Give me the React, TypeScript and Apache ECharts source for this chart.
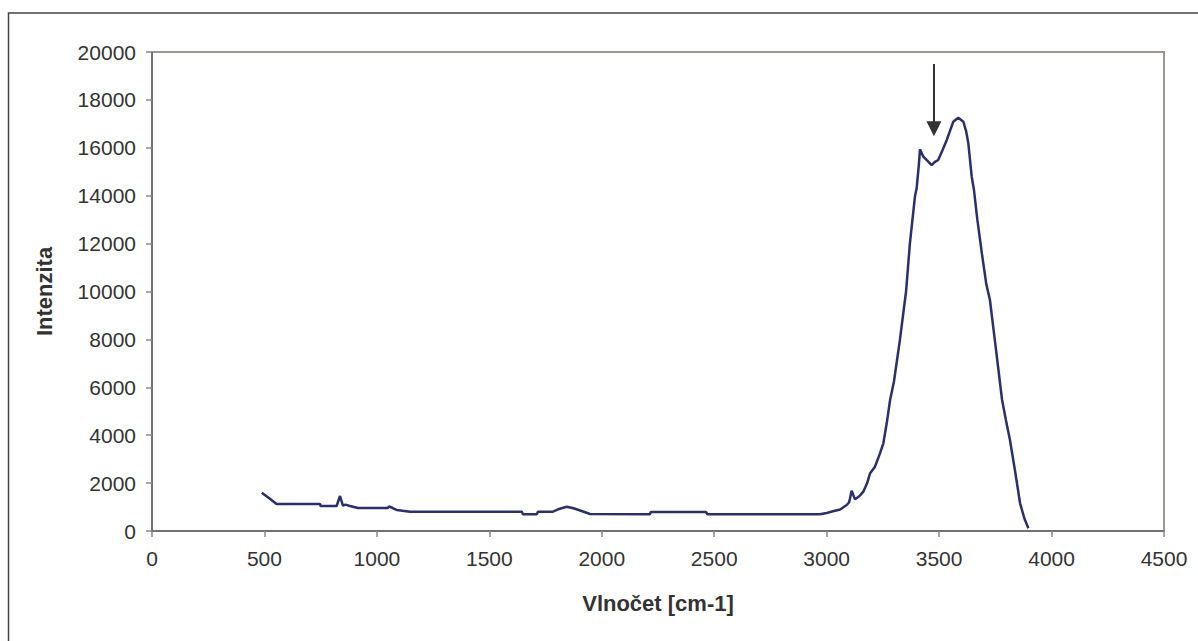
import React, { useEffect, useRef } from "react";
import * as echarts from "echarts";

const wavenumbers = [
  488, 520, 554, 747, 750, 821, 836, 849, 860, 880, 916, 1049, 1054, 1070, 1088, 1147,
  1644, 1650, 1711, 1716, 1783, 1810, 1844, 1870, 1888, 1948, 2214, 2218, 2463, 2470,
  2970, 3000, 3028, 3060, 3089, 3100, 3111, 3126, 3145, 3163, 3180, 3193, 3215, 3237,
  3252, 3267, 3282, 3299, 3326, 3353, 3370, 3393, 3400, 3410, 3415, 3430, 3452, 3467,
  3480, 3496, 3515, 3534, 3550, 3563, 3585, 3608, 3620, 3630, 3645, 3655, 3670, 3690,
  3710, 3726, 3750, 3780, 3797, 3815, 3837, 3860, 3880, 3897,
];
const intensities = [
  1599, 1380, 1127, 1127, 1044, 1044, 1461, 1060, 1100, 1044, 960, 960, 1030, 960, 877, 806,
  806, 697, 697, 806, 806, 920, 1015, 960, 906, 710, 697, 793, 793, 697,
  697, 750, 822, 900, 1085, 1200, 1683, 1322, 1450, 1642, 2000, 2408, 2686, 3243,
  3661, 4496, 5469, 6233, 8000, 10000, 12000, 14000, 14300, 15300, 15935, 15627, 15418, 15280,
  15400, 15489, 15900, 16324, 16750, 17088, 17256, 17088, 16700, 16185, 14793, 14237, 13000, 11600,
  10300, 9644, 7800, 5469, 4634, 3799, 2547, 1157, 500, 112,
];
const arrowStart = [3477, 19500];
const arrowEnd = [3477, 16800];
const xTitle = "Vlnočet [cm-1]";
const yTitle = "Intenzita";

export default function App() {
  const ref = useRef<HTMLDivElement>(null);
  useEffect(() => {
    const chart = echarts.init(ref.current!, null, { renderer: "svg" });
    const data = wavenumbers.map((x, i) => [x, intensities[i]]);
    const plain = (v: number) => String(v);
    chart.setOption({
      animation: false,
      backgroundColor: "#fff",
      textStyle: { fontFamily: "Liberation Sans, Arial, sans-serif" },
      graphic: [
        {
          type: "rect",
          shape: { x: 8.5, y: 13, width: 1400, height: 900 },
          style: { fill: "none", stroke: "#444", lineWidth: 1.5 },
          silent: true,
          z: -1,
        },
      ],
      grid: {
        left: 152,
        top: 52,
        width: 1012,
        height: 479,
        show: true,
        borderColor: "#a09694",
        borderWidth: 2,
        backgroundColor: "transparent",
      },
      xAxis: {
        type: "value",
        min: 0,
        max: 4500,
        interval: 500,
        name: xTitle,
        nameLocation: "middle",
        nameGap: 61,
        nameTextStyle: { fontSize: 22, fontWeight: "bold", color: "#333" },
        axisLine: { show: true, onZero: false, lineStyle: { color: "#666", width: 1.5 } },
        axisTick: { show: true, inside: false, length: 6, lineStyle: { color: "#888", width: 1.5 } },
        axisLabel: { fontSize: 21, color: "#333", margin: 17, formatter: plain },
        splitLine: { show: false },
      },
      yAxis: {
        type: "value",
        min: 0,
        max: 20000,
        interval: 2000,
        name: yTitle,
        nameLocation: "middle",
        nameGap: 97,
        nameRotate: 90,
        nameTextStyle: { fontSize: 22, fontWeight: "bold", color: "#333" },
        axisLine: { show: true, onZero: false, lineStyle: { color: "#666", width: 1.5 } },
        axisTick: { show: true, inside: false, length: 6, lineStyle: { color: "#888", width: 1.5 } },
        axisLabel: { fontSize: 21, color: "#333", margin: 16, formatter: plain },
        splitLine: { show: false },
      },
      series: [
        {
          type: "line",
          data,
          showSymbol: false,
          lineStyle: { color: "#2b2f6b", width: 2.5 },
          markLine: {
            silent: true,
            symbol: ["none", "triangle"],
            symbolSize: [15, 15],
            lineStyle: { color: "#333", width: 2, type: "solid" },
            label: { show: false },
            data: [
              [
                { coord: arrowStart },
                { coord: arrowEnd },
              ],
            ],
          },
        },
      ],
    });
    return () => chart.dispose();
  }, []);
  return (
    <div
      ref={ref}
      style={{ position: "fixed", left: 0, top: 0, width: 1198, height: 641 }}
    />
  );
}
